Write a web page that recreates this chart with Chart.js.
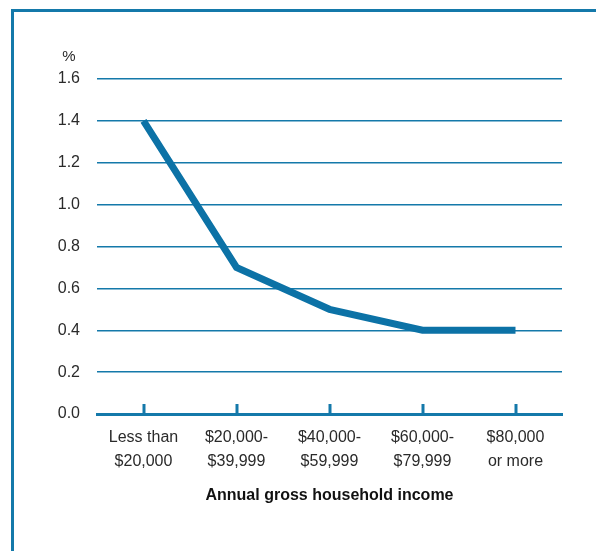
<!DOCTYPE html>
<html lang="en">
<head>
  <meta charset="UTF-8" />
  <title>Income chart</title>
  <script src="https://cdn.jsdelivr.net/npm/chart.js"></script>
  <style>
    html, body { margin: 0; padding: 0; background: #fff; }
    .wrap { position: relative; width: 596px; height: 551px; overflow: hidden; }
    .frame { position: absolute; left: 11px; top: 9px; right: -10px; bottom: -10px;
             border-left: 3px solid #1479aa; border-top: 3px solid #1479aa; }
    canvas { position: absolute; left: 0; top: 0; }
  </style>
</head>
<body>
  <div class="wrap">
    <div class="frame"></div>
    <canvas id="chart" width="596" height="551"></canvas>
  </div>

  <script>
    const categories = [['Less than', '$20,000'], ['$20,000-', '$39,999'], ['$40,000-', '$59,999'], ['$60,000-', '$79,999'], ['$80,000', 'or more']];
    const rates = [1.4, 0.7, 0.5, 0.4, 0.4];
    const yTicks = [0, 0.2, 0.4, 0.6, 0.8, 1.0, 1.2, 1.4, 1.6];

    const blue = '#1479aa';
    const lineBlue = '#0c72a6';
    const textCol = '#2a2a2a';
    const font = "'Liberation Sans', Arial, sans-serif";

    // small up ticks on the x axis and the % unit label
    const extras = {
      id: 'extras',
      beforeDatasetsDraw(chart) {
        const ctx = chart.ctx, x = chart.scales.x, area = chart.chartArea;
        ctx.save();
        ctx.strokeStyle = blue;
        ctx.lineWidth = 3;
        categories.forEach((c, i) => {
          const px = Math.round(x.getPixelForValue(i));
          ctx.beginPath();
          ctx.moveTo(px, area.bottom);
          ctx.lineTo(px, area.bottom - 10);
          ctx.stroke();
        });
        ctx.fillStyle = textCol;
        ctx.font = '15px ' + font;
        ctx.textAlign = 'center';
        ctx.textBaseline = 'middle';
        ctx.fillText('%', area.left - 28, area.top - 22);
        ctx.restore();
      }
    };

    new Chart(document.getElementById('chart'), {
      type: 'line',
      data: {
        labels: categories,
        datasets: [{
          data: rates,
          borderColor: lineBlue,
          borderWidth: 7,
          borderCapStyle: 'butt',
          borderJoinStyle: 'miter',
          pointRadius: 0,
          tension: 0,
          fill: false
        }]
      },
      options: {
        responsive: false,
        animation: false,
        layout: { padding: { top: 79, right: 34, left: 0, bottom: 0 } },
        plugins: { legend: { display: false }, tooltip: { enabled: false } },
        scales: {
          x: {
            offset: true,
            grid: { display: false, drawTicks: false },
            border: { display: true, color: blue, width: 3 },
            ticks: { color: textCol, font: { family: font, size: 16, lineHeight: 1.5 }, padding: 12, maxRotation: 0, autoSkip: false },
            title: { display: true, text: 'Annual gross household income', color: '#111',
                     font: { family: font, size: 16, weight: 'bold' }, padding: { top: 4, bottom: 46 } },
            afterFit(s) { s.height = 137; }
          },
          y: {
            min: 0, max: 1.6,
            afterBuildTicks(s) { s.ticks = yTicks.map(v => ({ value: v })); },
            grid: { color: blue, lineWidth: 1.5, drawTicks: false },
            border: { display: false },
            ticks: { color: textCol, font: { family: font, size: 16 }, padding: 17,
                     callback: v => Number(v).toFixed(1) },
            afterFit(s) { s.width = 97; }
          }
        }
      },
      plugins: [extras]
    });
  </script>
</body>
</html>
